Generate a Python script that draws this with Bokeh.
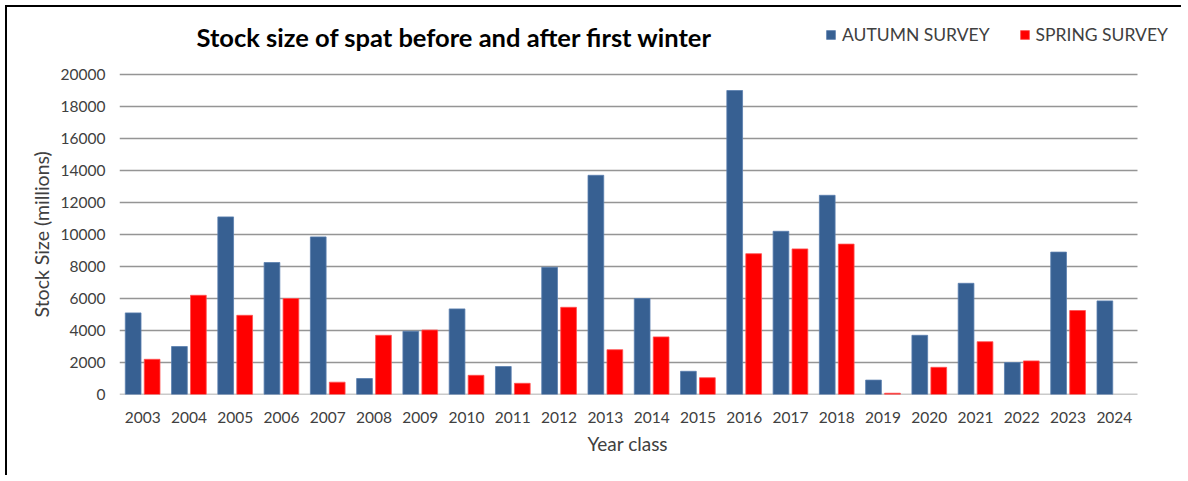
from bokeh.plotting import figure
from bokeh.models import (ColumnDataSource, Legend, LegendItem, Label, Title,
                          Range1d, FixedTicker)
from bokeh.transform import dodge
from bokeh.embed import file_html
from bokeh.resources import INLINE

years = [str(y) for y in range(2003, 2025)]
autumn = [5100, 3000, 11100, 8250, 9850, 1000, 3950, 5350, 1750, 7950, 13700,
          6000, 1450, 19000, 10200, 12450, 900, 3700, 6950, 2000, 8900, 5850]
spring = [2200, 6200, 4950, 6000, 770, 3700, 4030, 1200, 700, 5450, 2800,
          3600, 1050, 8800, 9100, 9400, 80, 1700, 3300, 2100, 5250, float("nan")]
y_ticks = [0, 2000, 4000, 6000, 8000, 10000, 12000, 14000, 16000, 18000, 20000]
series_names = ["AUTUMN SURVEY", "SPRING SURVEY"]
chart_title = "Stock size of spat before and after first winter"
x_title = "Year class"
y_title = "Stock Size (millions)"

FONT = "Lato"
BLUE = "#376092"
RED = "#FF0000"
GRID = "#959595"
TXT = "#404040"

n = len(years)
pos = [i + 0.5 for i in range(n)]          # category centres on a numeric axis

# frame geometry (pixels): 1064 wide, 380 tall; plot area uses 1018 x 320 of it
FRAME_W, FRAME_H = 1064, 380
x_end = n * FRAME_W / 1018
y_end = 20000 * FRAME_H / 320

src = ColumnDataSource(dict(pos=pos, year=years, autumn=autumn, spring=spring))

H = 470
p = figure(width=1176, height=H, x_range=Range1d(0, x_end), y_range=Range1d(0, y_end),
           output_backend="svg", toolbar_location=None,
           min_border_left=112, min_border_right=0, min_border_top=7,
           min_border_bottom=H - 7 - FRAME_H)
p.styles = {"border-left": "2px solid #000000", "border-top": "2px solid #000000",
            "margin-left": "5px", "margin-top": "5px"}
p.outline_line_color = None
p.grid.visible = False

# horizontal gridlines across the category span only
p.segment(x0=0, x1=n, y0=y_ticks, y1=y_ticks, line_color=GRID, line_width=1.5,
          level="underlay")

r1 = p.vbar(x=dodge("pos", -0.205), top="autumn", width=0.34, source=src,
            fill_color=BLUE, line_color="#5b7fae", line_width=0.8)
r2 = p.vbar(x=dodge("pos", 0.205), top="spring", width=0.34, source=src,
            fill_color=RED, line_color="#ff5050", line_width=0.8)

p.yaxis.ticker = FixedTicker(ticks=y_ticks)
p.xaxis.ticker = FixedTicker(ticks=pos)
p.xaxis.major_label_overrides = {pv: yr for pv, yr in zip(pos, years)}

for ax in (p.xaxis[0], p.yaxis[0]):
    ax.axis_line_color = None
    ax.major_tick_line_color = None
    ax.minor_tick_line_color = None
    ax.major_label_text_font = FONT
    ax.major_label_text_font_size = "15.5px"
    ax.major_label_text_color = TXT
p.yaxis.major_label_standoff = 8
p.xaxis.major_label_standoff = 11

# axis titles placed as side-panel titles so they can be positioned like the reference
p.add_layout(Title(text=y_title, align="left", offset=77, standoff=10,
                   text_font=FONT, text_font_size="19.5px", text_font_style="normal",
                   text_color=TXT), "left")
p.add_layout(Title(text=x_title, align="left", offset=468, standoff=8,
                   text_font=FONT, text_font_size="19px", text_font_style="normal",
                   text_color=TXT), "below")

# chart title
p.add_layout(Label(x=(197 - 120) / 1018 * n, y=(395 - 37) * 20000 / 320, text=chart_title,
                   text_font=FONT, text_font_size="25.5px", text_font_style="bold",
                   text_color="#000000", text_baseline="middle", text_align="left"))

legend = Legend(items=[LegendItem(label=series_names[0], renderers=[r1]),
                       LegendItem(label=series_names[1], renderers=[r2])],
                location=(706, 349), orientation="horizontal",
                background_fill_alpha=0, border_line_color=None,
                label_text_font=FONT, label_text_font_size="17.5px", label_text_color=TXT,
                glyph_width=11, glyph_height=11, label_standoff=6, spacing=29,
                label_height=20, padding=0, margin=0)
p.add_layout(legend)

open("out.html", "w").write(file_html(p, INLINE))
